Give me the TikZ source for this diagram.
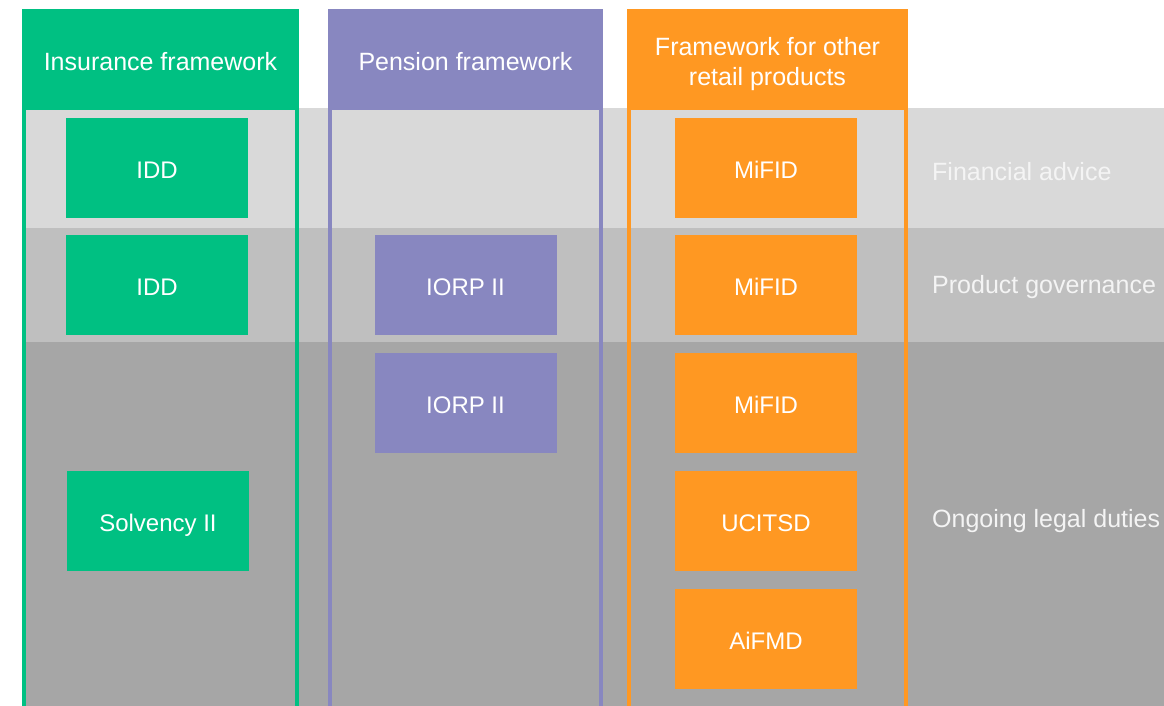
\documentclass[tikz,border=0pt]{standalone}
\usepackage{fontspec}
\setmainfont{Liberation Sans}
\newlength{\du}
\setlength{\du}{1pt}
\definecolor{insgreen}{RGB}{0,192,130}
\definecolor{penpurple}{RGB}{136,135,192}
\definecolor{retorange}{RGB}{255,152,34}
\definecolor{bandlight}{RGB}{217,217,217}
\definecolor{bandmid}{RGB}{191,191,191}
\definecolor{banddark}{RGB}{166,166,166}
\definecolor{labeltext}{RGB}{244,244,244}
\tikzset{
  headbox/.style={fill=#1, text=white, minimum height=101\du, inner sep=0pt,
    align=center, font=\fontsize{25}{30}\selectfont},
  lawbox/.style={fill=#1, text=white, minimum width=182\du, minimum height=100\du,
    inner sep=0pt, text height=22\du, text depth=1\du, font=\fontsize{24}{29}\selectfont},
  colframe/.style={draw=#1, line width=4\du},
  bandlabel/.style={anchor=west, text=labeltext, inner sep=0pt,
    font=\fontsize{25}{30}\selectfont}
}

\begin{document}
\begin{tikzpicture}
  \pgftransformyscale{-1.000000}
  \useasboundingbox (0\du,0\du) rectangle (1164\du,706\du);
  % bands
  \fill[bandlight] (22\du,108\du) rectangle (1164\du,228\du);
  \fill[bandmid] (22\du,228\du) rectangle (1164\du,342\du);
  \fill[banddark] (22\du,342\du) rectangle (1164\du,706\du);
  % column frames
  \draw[colframe=insgreen] (24\du,100\du) rectangle (297\du,712\du);
  \draw[colframe=penpurple] (330\du,100\du) rectangle (601\du,712\du);
  \draw[colframe=retorange] (629\du,100\du) rectangle (906\du,712\du);
  % headers
  \node[headbox=insgreen, minimum width=277\du, text height=23\du, text depth=1\du] (inshead) at (160.5\du,59.5\du) {Insurance framework};
  \node[headbox=penpurple, minimum width=275\du, text height=23\du, text depth=1\du] (penhead) at (465.5\du,59.5\du) {Pension framework};
  \node[headbox=retorange, minimum width=281\du, text height=58\du] (rethead) at (767.5\du,59.5\du) {Framework for other\\retail products};
  % insurance
  \node[lawbox=insgreen] (iddadv) at (157\du,168\du) {IDD};
  \node[lawbox=insgreen] (iddgov) at (157\du,285\du) {IDD};
  \node[lawbox=insgreen] (solvency) at (158\du,520.5\du) {Solvency II};
  % pension
  \node[lawbox=penpurple] (iorpgov) at (465.5\du,285\du) {IORP II};
  \node[lawbox=penpurple] (iorpduty) at (465.5\du,403\du) {IORP II};
  % other retail
  \node[lawbox=retorange] (mifidadv) at (766\du,168\du) {MiFID};
  \node[lawbox=retorange] (mifidgov) at (766\du,285\du) {MiFID};
  \node[lawbox=retorange] (mifidduty) at (766\du,403\du) {MiFID};
  \node[lawbox=retorange] (ucitsd) at (766\du,520.5\du) {UCITSD};
  \node[lawbox=retorange] (aifmd) at (766\du,639\du) {AiFMD};
  % band labels
  \node[bandlabel] (advlabel) at (932\du,172\du) {Financial advice};
  \node[bandlabel] (govlabel) at (932\du,287\du) {Product governance};
  \node[bandlabel] (dutylabel) at (932\du,521\du) {Ongoing legal duties};
\end{tikzpicture}
\end{document}
